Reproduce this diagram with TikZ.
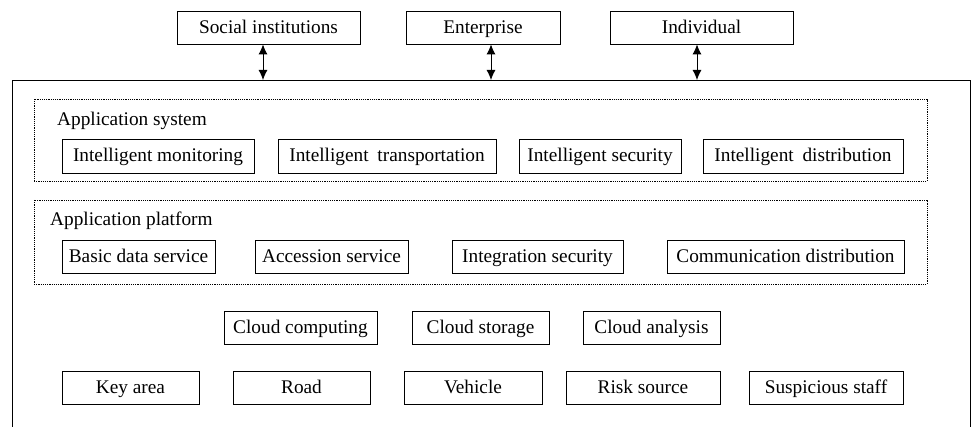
\documentclass[tikz,border=0pt]{standalone}
\usepackage{fontspec}
\setmainfont{Liberation Serif}
\usetikzlibrary{arrows.meta}
\begin{document}
\begin{tikzpicture}[x=1pt,y=-1pt,
  every node/.style={font=\fontsize{19.3}{22}\selectfont},
  box/.style={draw, line width=0.8pt, inner sep=0pt, minimum height=33pt, text height=13pt, text depth=1pt},
  dotbox/.style={draw, line width=0.7pt, dash pattern=on 1.2pt off 1pt, inner sep=0pt},
  lbl/.style={anchor=west, inner sep=0pt, text height=13pt, text depth=1pt},
  link/.style={line width=0.9pt, {Latex[length=10pt,width=9pt]}-{Latex[length=10pt,width=9pt]}}
]
\useasboundingbox (0,0) rectangle (972,427);
% outer frame
\draw[line width=0.8pt] (12,427) -- (12,80) -- (970,80) -- (970,427);
% top actors
\node[box, minimum width=183pt] (soc) at (268.5,27.5) {Social institutions};
\node[box, minimum width=154pt] (ent) at (483,27.5) {Enterprise};
\node[box, minimum width=183pt] (ind) at (701.5,27.5) {Individual};
\coordinate (p1) at (263,80);
\coordinate (p2) at (491,80);
\coordinate (p3) at (697,80);
\draw[link] (p1 |- soc.south) -- (p1);
\draw[link] (p2 |- ent.south) -- (p2);
\draw[link] (p3 |- ind.south) -- (p3);
% application system
\node[dotbox, minimum width=893pt, minimum height=82pt] (sys) at (480.5,140) {};
\node[lbl] (syslbl) at (57,120) {Application system};
\node[box, minimum width=192pt, minimum height=34pt] (im) at (158,156) {Intelligent monitoring};
\node[box, minimum width=218pt, minimum height=34pt] (it) at (387,156) {Intelligent\hspace{4pt} transportation};
\node[box, minimum width=162pt, minimum height=34pt] (is) at (600,156) {Intelligent security};
\node[box, minimum width=200pt, minimum height=34pt] (id) at (803,156) {Intelligent\hspace{4pt} distribution};
% application platform
\node[dotbox, minimum width=893pt, minimum height=84pt] (plat) at (480.5,242) {};
\node[lbl] (platlbl) at (50,220) {Application platform};
\node[box, minimum width=153pt] (bds) at (138.5,256.5) {Basic data service};
\node[box, minimum width=153pt] (acc) at (331.5,256.5) {Accession service};
\node[box, minimum width=171pt] (isec) at (537.5,256.5) {Integration security};
\node[box, minimum width=237pt] (cd) at (785.5,256.5) {Communication distribution};
% cloud
\node[box, minimum width=153pt] (cc) at (300.5,327.5) {Cloud computing};
\node[box, minimum width=137pt] (cs) at (480.5,327.5) {Cloud storage};
\node[box, minimum width=137pt] (ca) at (651.5,327.5) {Cloud analysis};
% objects
\node[box, minimum width=137pt] (ka) at (130.5,387.5) {Key area};
\node[box, minimum width=137pt] (road) at (301.5,387.5) {Road};
\node[box, minimum width=138pt] (veh) at (473,387.5) {Vehicle};
\node[box, minimum width=154pt] (rs) at (643,387.5) {Risk source};
\node[box, minimum width=154pt] (ss) at (826,387.5) {Suspicious staff};
\end{tikzpicture}
\end{document}
